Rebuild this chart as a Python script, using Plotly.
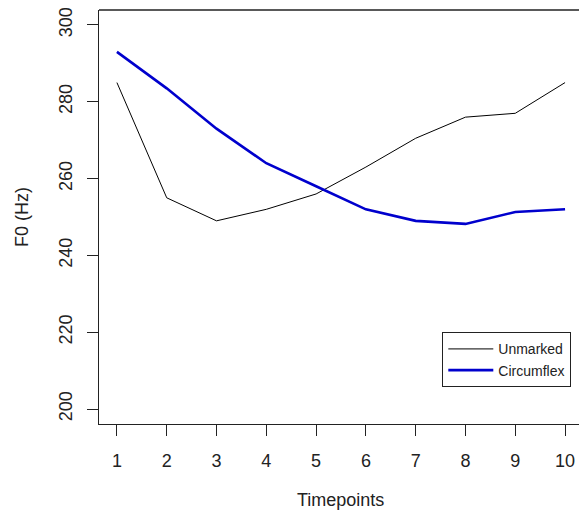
import plotly.graph_objects as go

timepoints = [1, 2, 3, 4, 5, 6, 7, 8, 9, 10]
unmarked = [285, 255, 249, 252, 256, 263, 270.5, 276, 277, 285]
circumflex = [293, 283.5, 273, 264, 258, 252, 249, 248.2, 251.3, 252]
y_ticks = [200, 220, 240, 260, 280, 300]

FONT = "Liberation Sans, Arial, sans-serif"
AX = "#222222"

fig = go.Figure()
fig.add_trace(go.Scatter(x=timepoints, y=unmarked, mode="lines", name="Unmarked",
                         line=dict(color="black", width=1)))
fig.add_trace(go.Scatter(x=timepoints, y=circumflex, mode="lines", name="Circumflex",
                         line=dict(color="#0000CD", width=2.6)))

fig.update_layout(
    width=579, height=515,
    margin=dict(l=99, r=0, t=10, b=91, autoexpand=False),
    paper_bgcolor="white", plot_bgcolor="white",
    font=dict(family=FONT, size=17, color="#222"),
    showlegend=True,
    legend=dict(x=0.7146, y=0.2222, xanchor="left", yanchor="top",
                bordercolor=AX, borderwidth=1.3, bgcolor="white",
                font=dict(size=14, family=FONT, color="#222"),
                tracegroupgap=0, itemwidth=45),
    xaxis=dict(range=[0.64, 10.28], tickmode="array", tickvals=timepoints,
               ticktext=[str(t) for t in timepoints],
               showgrid=False, zeroline=False, showline=True, linecolor=AX, linewidth=1.3,
               ticks="outside", ticklen=11, tickwidth=1.3, tickcolor=AX,
               tickfont=dict(size=18), ticklabelstandoff=9),
    yaxis=dict(range=[196.1, 303.9], tickmode="array", tickvals=y_ticks,
               ticktext=[str(v) for v in y_ticks],
               showgrid=False, zeroline=False, showline=True, linecolor=AX, linewidth=1.3,
               ticks="outside", ticklen=11, tickwidth=1.3, tickcolor=AX,
               tickangle=-90, tickfont=dict(size=18), ticklabelstandoff=8),
    shapes=[dict(type="line", xref="paper", yref="paper", x0=0, x1=1, y0=1, y1=1,
                 line=dict(color=AX, width=1.3))],
    annotations=[
        dict(text="Timepoints", xref="paper", yref="paper", x=0.504, y=-76/414,
             xanchor="center", yanchor="middle", showarrow=False,
             font=dict(size=18, family=FONT, color="#222")),
        dict(text="F0 (Hz)", xref="paper", yref="paper", x=-77/480, y=0.5,
             xanchor="center", yanchor="middle", showarrow=False, textangle=-90,
             font=dict(size=18, family=FONT, color="#222")),
    ],
)

fig.write_html("out.html", config={"displayModeBar": False},
               post_script="document.body.style.margin='0';document.body.style.overflow='hidden';")
